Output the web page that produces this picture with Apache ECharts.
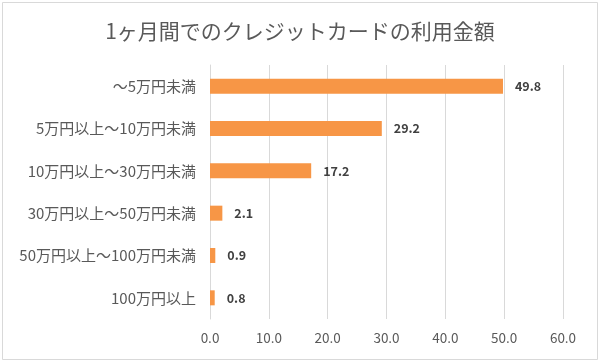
<!DOCTYPE html>
<html><head><meta charset="utf-8">
<script src="https://cdn.jsdelivr.net/npm/echarts@6/dist/echarts.min.js"></script>
<style>html,body{margin:0;padding:0;background:#fff}#c{width:600px;height:362px}</style>
</head><body><div id="c"></div>
<script>
const categories = ['～5万円未満','5万円以上～10万円未満','10万円以上～30万円未満','30万円以上～50万円未満','50万円以上～100万円未満','100万円以上'];
const values = [49.8, 29.2, 17.2, 2.1, 0.9, 0.8];
const titleText = '1ヶ月間でのクレジットカードの利用金額';
const chart = echarts.init(document.getElementById('c'));
const font = '"Noto Sans CJK JP", "Noto Sans", sans-serif';
chart.setOption({
  backgroundColor: '#fff',
  animation: false,
  graphic: [{type:'rect', shape:{x:2.5,y:2.5,width:595,height:357}, style:{fill:'none', stroke:'#d9d9d9', lineWidth:1}}],
  title: {text: titleText, left: 'center', top: 16, textStyle:{fontFamily: font, fontSize: 21, fontWeight:'normal', color:'#595959'}},
  grid: {left: 210, right: 37, top: 65, bottom: 43},
  xAxis: {type:'value', min:0, max:60, interval:10,
    axisLabel:{formatter: v => v.toFixed(1), color:'#595959', fontSize:13.5, fontFamily: font, margin: 12},
    splitLine:{lineStyle:{color:'#d9d9d9'}}, axisLine:{show:false}, axisTick:{show:false}},
  yAxis: {type:'category', inverse:true, data: categories,
    axisLabel:{color:'#595959', fontSize:15, fontFamily: font, margin: 14},
    axisLine:{show:true, lineStyle:{color:'#d9d9d9'}}, axisTick:{show:false}},
  series: [{type:'bar', data: values, barWidth: 15, itemStyle:{color:'#F79646'},
    label:{show:true, position:'right', distance: 12, formatter: p => p.value.toFixed(1), color:'#404040', fontWeight:'bold', fontSize:12.5, fontFamily: font}}]
});
</script></body></html>
